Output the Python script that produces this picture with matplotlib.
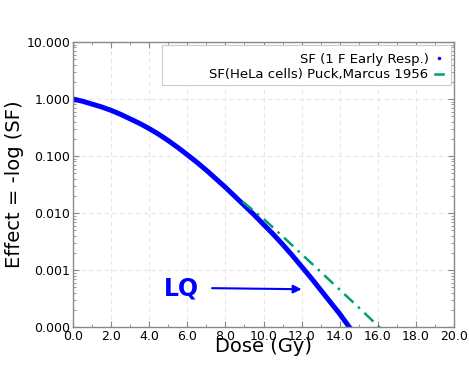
import matplotlib
matplotlib.use("Agg")
import matplotlib.pyplot as plt
from matplotlib.ticker import FormatStrFormatter, MultipleLocator, LogLocator, NullFormatter
from matplotlib.lines import Line2D
from matplotlib.patches import Rectangle

# LQ curve (1 fraction, early response)
lq_dose = [0, 0.5, 1, 1.5, 2, 2.5, 3, 3.5, 4, 4.5, 5, 5.5, 6, 6.5, 7, 7.5,
           8, 8.5, 9, 9.5, 10, 10.5, 11, 11.5, 12, 12.5, 13, 13.5, 14, 14.5, 15]
lq_sf = [1.0, 0.912, 0.813, 0.724, 0.631, 0.537, 0.447, 0.372, 0.302, 0.240,
         0.186, 0.141, 0.105, 0.0776, 0.0562, 0.0398, 0.0282, 0.0195, 0.0135,
         0.00933, 0.00631, 0.00427, 0.00282, 0.00182, 0.00115, 0.000724, 0.000447,
         0.000275, 0.00017, 0.0001, 0.00006]

# HeLa cells, Puck & Marcus 1956
hela_dose = [8.9, 10, 11, 12, 13, 14, 15, 16, 16.3]
hela_sf = [0.0158, 0.0079, 0.0039, 0.0019, 0.00093, 0.00045, 0.00022, 0.000105, 0.000085]

xticks = [0, 2, 4, 6, 8, 10, 12, 14, 16, 18, 20]
yticks = [0.0001, 0.001, 0.01, 0.1, 1, 10]

fig = plt.figure(figsize=(4.69, 3.68), dpi=100)
ax = fig.add_axes([0.1557, 0.1114, 0.8123, 0.7746])

l1, = ax.plot(lq_dose, lq_sf, color="#0000ff", lw=3.6, solid_capstyle="butt",
              solid_joinstyle="round", label="SF (1 F Early Resp.)")
l2, = ax.plot(hela_dose, hela_sf, color="#029e73", lw=1.8, ls=(0, (5, 2.5, 1, 2.5)),
              label="SF(HeLa cells) Puck,Marcus 1956")

ax.set_yscale("log")
ax.set_xlim(0, 20)
ax.set_ylim(0.0001, 10)
ax.set_xticks(xticks)
ax.xaxis.set_minor_locator(MultipleLocator(1))
ax.set_yticks(yticks)
ax.yaxis.set_minor_locator(LogLocator(base=10, subs=range(2, 10)))
ax.yaxis.set_minor_formatter(NullFormatter())
ax.yaxis.set_major_formatter(FormatStrFormatter("%.3f"))
ax.xaxis.set_major_formatter(FormatStrFormatter("%.1f"))

for s in ax.spines.values():
    s.set_color("#888888")
    s.set_linewidth(1.0)
ax.tick_params(which="both", direction="in", top=True, right=True, color="#888888")
ax.tick_params(which="major", length=4, labelsize=9, pad=2)
ax.tick_params(which="minor", length=2)
ax.grid(True, which="major", ls=(0, (4, 3)), color="#e6e6e6", lw=0.8)

ax.set_xlabel("Dose (Gy)", fontsize=14, labelpad=-4)
ax.set_ylabel("Effect = -log (SF)", fontsize=14, labelpad=2)

# legend frame drawn manually (wider than the entries)
ax.add_patch(Rectangle((0.2336, 0.849), 0.7584, 0.1405, transform=ax.transAxes,
                       facecolor="white", edgecolor="#cccccc", lw=0.8, zorder=4))
h1 = Line2D([], [], color="#0000ff", marker=".", ls="none", markersize=3)
h2 = Line2D([], [], color="#029e73", lw=1.8)
leg = ax.legend([h1, h2], [l1.get_label(), l2.get_label()], loc="upper right",
                fontsize=9.5, markerfirst=False, frameon=False, handlelength=0.6,
                handletextpad=0.5, borderpad=0, borderaxespad=0,
                labelspacing=0.2, bbox_to_anchor=(0.971, 0.962))
leg.set_zorder(5)

ax.annotate("", xy=(12.0, 0.00046), xytext=(7.3, 0.00048),
            arrowprops=dict(arrowstyle="-|>", color="#0000ff", lw=1.5,
                            mutation_scale=12, shrinkA=0, shrinkB=0))
ax.text(5.7, 0.00048, "LQ", color="#0000ff", fontsize=17, fontweight="bold",
        ha="center", va="center")

fig.savefig("out.png", dpi=100)
